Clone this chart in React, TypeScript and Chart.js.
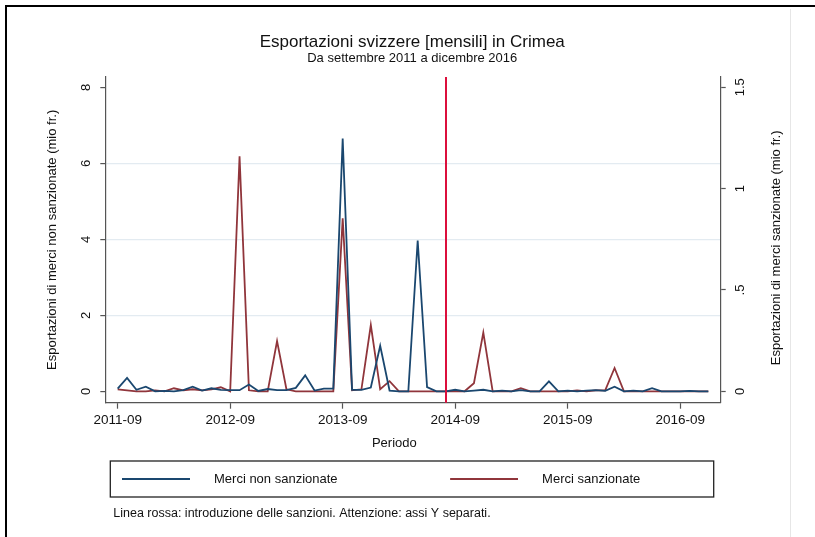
import React, { useEffect, useRef } from 'react';
import { Chart, registerables } from 'chart.js';

Chart.register(...registerables);

// Monthly periods, September 2011 to December 2016 (category labels)
const months: string[] = Array.from({ length: 64 }, (_, i) => {
  const m = 8 + i;
  return `${2011 + Math.floor(m / 12)}-${String((m % 12) + 1).padStart(2, '0')}`;
});

// Exports of non-sanctioned goods (mio fr.), left axis
const nonSanctioned = [
  0.07, 0.35, 0.04, 0.12, 0.0, 0.01, 0.0, 0.03,
  0.12, 0.02, 0.08, 0.04, 0.03, 0.03, 0.18, 0.01,
  0.06, 0.03, 0.03, 0.09, 0.42, 0.02, 0.07, 0.07,
  6.65, 0.04, 0.04, 0.1, 1.2, 0.02, 0.0, 0.0,
  3.97, 0.11, 0.0, 0.0, 0.04, 0.0, 0.02, 0.04,
  0.0, 0.02, 0.0, 0.03, 0.0, 0.0, 0.26, 0.0,
  0.02, 0.0, 0.02, 0.03, 0.01, 0.12, 0.0, 0.02,
  0.0, 0.08, 0.0, 0.0, 0.0, 0.01, 0.0, 0.0,
];

// Exports of sanctioned goods (mio fr.), right axis
const sanctioned = [
  0.01, 0.005, 0.0, 0.0, 0.005, 0.0, 0.015, 0.005,
  0.01, 0.005, 0.01, 0.02, 0.0, 1.16, 0.005, 0.0,
  0.0, 0.248, 0.01, 0.0, 0.0, 0.0, 0.0, 0.0,
  0.853, 0.005, 0.01, 0.327, 0.01, 0.05, 0.0, 0.0,
  0.0, 0.0, 0.0, 0.0, 0.0, 0.0, 0.04, 0.29,
  0.0, 0.0, 0.0, 0.015, 0.0, 0.0, 0.0, 0.0,
  0.0, 0.005, 0.0, 0.005, 0.005, 0.115, 0.0, 0.0,
  0.0, 0.0, 0.0, 0.0, 0.0, 0.0, 0.0, 0.0,
];

const leftTicks = [0, 2, 4, 6, 8];
const leftGridValues = [2, 4, 6];
const rightTicks = [0, 0.5, 1, 1.5];
const rightTickLabels = ['0', '.5', '1', '1.5'];
const xTickLabels = ['2011-09', '2012-09', '2013-09', '2014-09', '2015-09', '2016-09'];
const sanctionsMonth = '2014-08';

const seriesNames = ['Merci non sanzionate', 'Merci sanzionate'];
const titleText = 'Esportazioni svizzere [mensili] in Crimea';
const subtitleText = 'Da settembre 2011 a dicembre 2016';
const leftTitle = 'Esportazioni di merci non sanzionate (mio fr.)';
const rightTitle = 'Esportazioni di merci sanzionate (mio fr.)';
const xTitle = 'Periodo';
const noteText = 'Linea rossa: introduzione delle sanzioni. Attenzione: assi Y separati.';

const FONT = "'Liberation Sans', Arial, sans-serif";
const BLUE = '#1a476f';
const RED = '#90353b';
const VLINE = '#dc0f3c';
const AXIS = '#555555';
const GRID = '#e3ebf1';
const TEXT = '#111111';

function makeLegendLine(color: string): HTMLCanvasElement {
  const c = document.createElement('canvas');
  c.width = 150;
  c.height = 4;
  const g = c.getContext('2d')!;
  g.fillStyle = color;
  g.fillRect(82, 1, 68, 2);
  return c;
}

const decorPlugin = {
  id: 'decor',
  beforeDraw(chart: any) {
    const ctx = chart.ctx;
    ctx.save();
    ctx.fillStyle = '#000';
    ctx.fillRect(5, 5, 810, 2);
    ctx.fillRect(5, 5, 2, 532);
    ctx.fillStyle = '#e6e6e6';
    ctx.fillRect(790, 9, 1, 528);
    ctx.restore();
  },
  afterDatasetsDraw(chart: any) {
    const ctx = chart.ctx;
    const { top, bottom } = chart.chartArea;
    const x = Math.round(chart.scales.x.getPixelForValue(months.indexOf(sanctionsMonth)));
    ctx.save();
    ctx.strokeStyle = VLINE;
    ctx.lineWidth = 2;
    ctx.beginPath();
    ctx.moveTo(x, top);
    ctx.lineTo(x, bottom);
    ctx.stroke();
    ctx.restore();
  },
  afterDraw(chart: any) {
    const ctx = chart.ctx;
    const a = chart.chartArea;
    ctx.save();
    // legend frame
    ctx.strokeStyle = '#222';
    ctx.lineWidth = 1.3;
    ctx.strokeRect(a.left + 5, a.bottom + 58.3, a.right - a.left - 12, 36);
    ctx.fillStyle = TEXT;
    // x-axis title
    ctx.font = `13px ${FONT}`;
    ctx.textAlign = 'center';
    ctx.textBaseline = 'middle';
    ctx.fillText(xTitle, a.left + 289, a.bottom + 40.5);
    // right axis title (reads bottom to top)
    ctx.save();
    ctx.translate(776, (a.top + a.bottom) / 2 + 8);
    ctx.rotate(-Math.PI / 2);
    ctx.fillText(rightTitle, 0, 0);
    ctx.restore();
    // note
    ctx.font = `12.5px ${FONT}`;
    ctx.textAlign = 'left';
    ctx.fillText(noteText, a.left + 8, a.bottom + 110.5);
    ctx.restore();
  },
};

export default function App() {
  const canvasRef = useRef<HTMLCanvasElement | null>(null);

  useEffect(() => {
    if (!canvasRef.current) return;
    const xTickIdx = xTickLabels.map((l) => months.indexOf(l));
    const chart = new Chart(canvasRef.current, {
      type: 'line',
      data: {
        datasets: [
          {
            label: seriesNames[0],
            data: nonSanctioned.map((v, i) => ({ x: i, y: v })),
            yAxisID: 'y',
            borderColor: BLUE,
            backgroundColor: BLUE,
            borderWidth: 1.8,
            pointRadius: 0,
            pointHoverRadius: 0,
            pointStyle: makeLegendLine(BLUE) as any,
            tension: 0,
          },
          {
            label: seriesNames[1],
            data: sanctioned.map((v, i) => ({ x: i, y: v })),
            yAxisID: 'y1',
            borderColor: RED,
            backgroundColor: RED,
            borderWidth: 1.8,
            pointRadius: 0,
            pointHoverRadius: 0,
            pointStyle: makeLegendLine(RED) as any,
            tension: 0,
          },
        ],
      },
      options: {
        responsive: false,
        animation: false,
        devicePixelRatio: 1,
        events: [],
        layout: { padding: { top: 5, left: 9.5, right: 0, bottom: 41.5 } },
        scales: {
          x: {
            type: 'linear',
            min: -1.32,
            max: 64.32,
            afterBuildTicks: (s: any) => {
              s.ticks = xTickIdx.map((v) => ({ value: v }));
            },
            afterFit: (s: any) => {
              s.height = 56.8;
            },
            ticks: {
              autoSkip: false,
              minRotation: 0,
              maxRotation: 0,
              padding: 3,
              color: TEXT,
              font: { family: FONT, size: 13.5 },
              callback: (_v: any, i: number) => xTickLabels[i],
            },
            grid: { drawOnChartArea: false, drawTicks: true, tickLength: 6, tickColor: AXIS, tickWidth: 1.2 },
            border: { display: true, color: AXIS, width: 1.2 },
          },
          y: {
            position: 'left',
            min: -0.3,
            max: 8.271,
            afterBuildTicks: (s: any) => {
              s.ticks = leftTicks.map((v) => ({ value: v }));
            },
            afterFit: (s: any) => {
              s.width = 95.8;
            },
            ticks: {
              minRotation: 90,
              maxRotation: 90,
              crossAlign: 'center',
              padding: 10.4,
              color: TEXT,
              font: { family: FONT, size: 13 },
              callback: (v: any) => String(v),
            },
            grid: {
              color: (c: any) => (c.tick && leftGridValues.includes(c.tick.value) ? GRID : 'rgba(0,0,0,0)'),
              lineWidth: 1.2,
              drawTicks: true,
              tickLength: 5,
              tickColor: AXIS,
              tickWidth: 1.2,
            },
            border: { display: true, color: AXIS, width: 1.2 },
            title: {
              display: true,
              text: leftTitle,
              color: TEXT,
              font: { family: FONT, size: 13 },
              padding: { top: 34.7, bottom: 0 },
            },
          },
          y1: {
            position: 'right',
            min: -0.05625,
            max: 1.5508,
            afterBuildTicks: (s: any) => {
              s.ticks = rightTicks.map((v) => ({ value: v }));
            },
            afterFit: (s: any) => {
              s.width = 94.3;
            },
            ticks: {
              minRotation: 90,
              maxRotation: 90,
              crossAlign: 'center',
              padding: 5.3,
              color: TEXT,
              font: { family: FONT, size: 13 },
              callback: (_v: any, i: number) => rightTickLabels[i],
            },
            grid: { drawOnChartArea: false, drawTicks: true, tickLength: 5, tickColor: AXIS, tickWidth: 1.2 },
            border: { display: true, color: AXIS, width: 1.2 },
          },
        },
        plugins: {
          title: {
            display: true,
            text: titleText,
            color: TEXT,
            font: { family: FONT, size: 17, weight: 'normal', lineHeight: 1 },
            padding: { top: 28.5, bottom: 0 },
          },
          subtitle: {
            display: true,
            text: subtitleText,
            color: TEXT,
            font: { family: FONT, size: 13, weight: 'normal', lineHeight: 1 },
            padding: { top: 1, bottom: 12.5 },
          },
          legend: {
            display: true,
            position: 'bottom',
            align: 'start',
            labels: {
              usePointStyle: true,
              pointStyleWidth: 185,
              padding: 13,
              color: TEXT,
              font: { family: FONT, size: 13 },
            },
          },
          tooltip: { enabled: false },
        },
      } as any,
      plugins: [decorPlugin],
    });
    return () => chart.destroy();
  }, []);

  return (
    <div style={{ position: 'absolute', left: 0, top: 0, width: 815, height: 537, background: '#fff' }}>
      <canvas ref={canvasRef} width={815} height={537} style={{ display: 'block', width: 815, height: 537 }} />
    </div>
  );
}
